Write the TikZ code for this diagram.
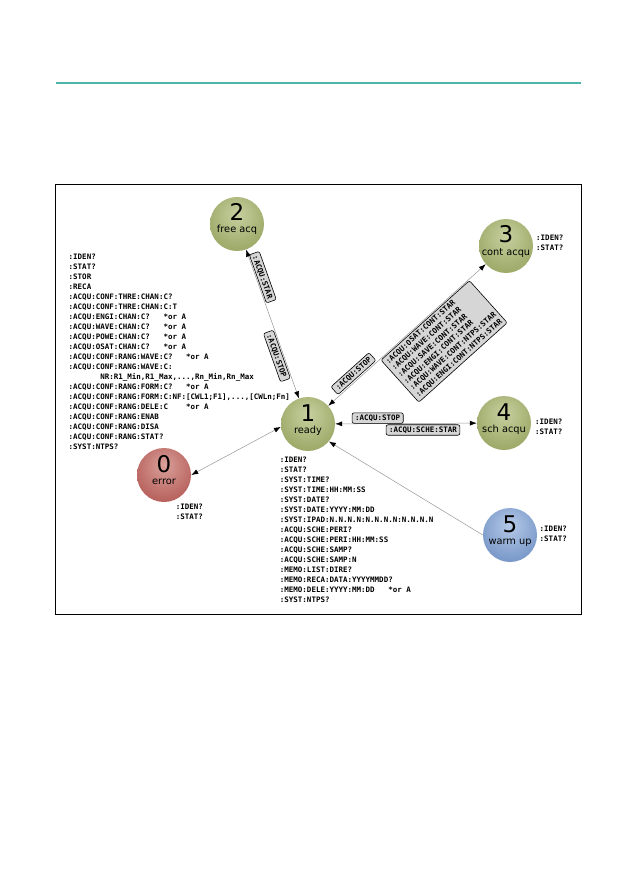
\documentclass[tikz,border=0pt]{standalone}
\usepackage{fontspec}
\setmainfont{DejaVu Sans}
\setmonofont{DejaVu Sans Mono}
\usetikzlibrary{arrows.meta}

\definecolor{rulecol}{RGB}{77,182,172}
\definecolor{linegray}{RGB}{150,150,150}
\definecolor{boxgray}{RGB}{214,214,214}
\definecolor{greenin}{RGB}{200,208,160}
\definecolor{greenmid}{RGB}{150,164,96}
\definecolor{greenout}{RGB}{96,110,50}
\definecolor{redin}{RGB}{218,160,154}
\definecolor{redmid}{RGB}{178,88,84}
\definecolor{redout}{RGB}{132,48,46}
\definecolor{bluein}{RGB}{182,202,232}
\definecolor{bluemid}{RGB}{112,145,196}
\definecolor{blueout}{RGB}{62,96,150}

\pgfdeclareradialshading{greenorb}{\pgfpoint{0bp}{10bp}}{color(0bp)=(greenin); color(34bp)=(greenmid); color(62bp)=(greenout)}
\pgfdeclareradialshading{redorb}{\pgfpoint{0bp}{10bp}}{color(0bp)=(redin); color(34bp)=(redmid); color(62bp)=(redout)}
\pgfdeclareradialshading{blueorb}{\pgfpoint{0bp}{10bp}}{color(0bp)=(bluein); color(34bp)=(bluemid); color(62bp)=(blueout)}

\newcommand{\cmd}{\fontsize{7.5}{10}\selectfont\ttfamily\bfseries}
\newcommand{\boxcmd}{\fontsize{7.5}{9}\selectfont\ttfamily\bfseries}

\begin{document}
\begin{tikzpicture}[x=1pt, y=-1pt,
    >={Latex[length=7pt,width=5pt,color=black]},
    state/.style={circle, minimum size=54pt, inner sep=0pt},
    statenum/.style={anchor=base, inner sep=0pt, font=\fontsize{23}{23}\selectfont},
    statename/.style={anchor=base, inner sep=0pt, font=\fontsize{9.8}{10}\selectfont},
    cmdlist/.style={anchor=north west, align=left, inner sep=0pt, font=\cmd},
    cmdbox/.style={draw=black, fill=boxgray, rounded corners=2pt, line width=0.6pt,
      inner xsep=3pt, inner ysep=2.5pt, font=\cmd, text height=5.5pt, text depth=0pt},
    bigbox/.style={draw=black, fill=boxgray, rounded corners=2pt, line width=0.6pt,
      inner xsep=3pt, inner ysep=2.5pt, font=\boxcmd, align=left},
    link/.style={draw=linegray, line width=0.5pt}]
    \useasboundingbox (0,0) rectangle (629,893);

    % page rule and frame
    \draw[rulecol, line width=2pt] (55.5,83) -- (581,83);
    \draw[line width=0.8pt] (55,184.5) rectangle (581.5,614.5);

    % states
    \foreach \id/\pos/\orb/\txt in {0/{164,475}/redorb/error, 1/{308,424}/greenorb/ready,
        2/{237,224}/greenorb/free acq, 3/{506,246}/greenorb/cont acqu,
        4/{504,423}/greenorb/sch acqu, 5/{510,535}/blueorb/warm up}
    {
      \node[state, shading=\orb] (s\id) at (\pos) {};
      \node[statenum] (n\id) at ([yshift=3pt]s\id.center) {\id};
      \node[statename] (l\id) at ([yshift=-9pt]s\id.center) {\txt};
    }

    % transitions
    \draw[link, <->] (s2) --
      node[cmdbox, sloped, pos=0.2, above=1pt] (star2) {:ACQU:STAR}
      node[cmdbox, sloped, pos=0.7, below=1pt] (stop2) {:ACQU:STOP} (s1);
    \draw[link, <->] (s1) --
      node[cmdbox, sloped, pos=0.19, above=1.5pt] (stop3) {:ACQU:STOP}
      node[bigbox, sloped, pos=0.61, below=1pt] (star3)
      {:ACQU:OSAT:CONT:STAR\\:ACQU:WAVE:CONT:STAR\\:ACQU:SAVE:CONT:STAR\\
       :ACQU:ENGI:CONT:STAR\\:ACQU:WAVE:CONT:NTPS:STAR\\:ACQU:ENGI:CONT:NTPS:STAR} (s3);
    \draw[link, <->] (s1) --
      node[cmdbox, pos=0.3, above=0pt] (stop4) {:ACQU:STOP}
      node[cmdbox, pos=0.62, below=1pt] (star4) {:ACQU:SCHE:STAR} (s4);
    \draw[link, <->] (s1.186) -- (s0.east);
    \draw[link, ->] (s5.west) -- (s1.-40);

    % command lists
    \node[cmdlist] (cmd2) at (68.5,254) {:IDEN?\\:STAT?\\:STOR\\:RECA\\
      :ACQU:CONF:THRE:CHAN:C?\\:ACQU:CONF:THRE:CHAN:C:T\\
      :ACQU:ENGI:CHAN:C?~~~*or A\\:ACQU:WAVE:CHAN:C?~~~*or A\\
      :ACQU:POWE:CHAN:C?~~~*or A\\:ACQU:OSAT:CHAN:C?~~~*or A\\
      :ACQU:CONF:RANG:WAVE:C?~~~*or A\\:ACQU:CONF:RANG:WAVE:C:\\
      ~~~~~~~NR:R1\_Min,R1\_Max,...,Rn\_Min,Rn\_Max\\
      :ACQU:CONF:RANG:FORM:C?~~~*or A\\
      :ACQU:CONF:RANG:FORM:C:NF:[CWL1;F1],...,[CWLn;Fn]\\
      :ACQU:CONF:RANG:DELE:C~~~~*or A\\:ACQU:CONF:RANG:ENAB\\
      :ACQU:CONF:RANG:DISA\\:ACQU:CONF:RANG:STAT?\\:SYST:NTPS?};
    \node[cmdlist] (cmd1) at (279.7,457) {:IDEN?\\:STAT?\\:SYST:TIME?\\
      :SYST:TIME:HH:MM:SS\\:SYST:DATE?\\:SYST:DATE:YYYY:MM:DD\\
      :SYST:IPAD:N.N.N.N:N.N.N.N:N.N.N.N\\:ACQU:SCHE:PERI?\\
      :ACQU:SCHE:PERI:HH:MM:SS\\:ACQU:SCHE:SAMP?\\:ACQU:SCHE:SAMP:N\\
      :MEMO:LIST:DIRE?\\:MEMO:RECA:DATA:YYYYMMDD?\\
      :MEMO:DELE:YYYY:MM:DD~~~*or A\\:SYST:NTPS?};
    \node[cmdlist] (cmd0) at (175.7,504) {:IDEN?\\:STAT?};
    \node[cmdlist] (cmd3) at (536,235) {:IDEN?\\:STAT?};
    \node[cmdlist] (cmd4) at (535,419) {:IDEN?\\:STAT?};
    \node[cmdlist] (cmd5) at (539.5,526) {:IDEN?\\:STAT?};
\end{tikzpicture}
\end{document}
